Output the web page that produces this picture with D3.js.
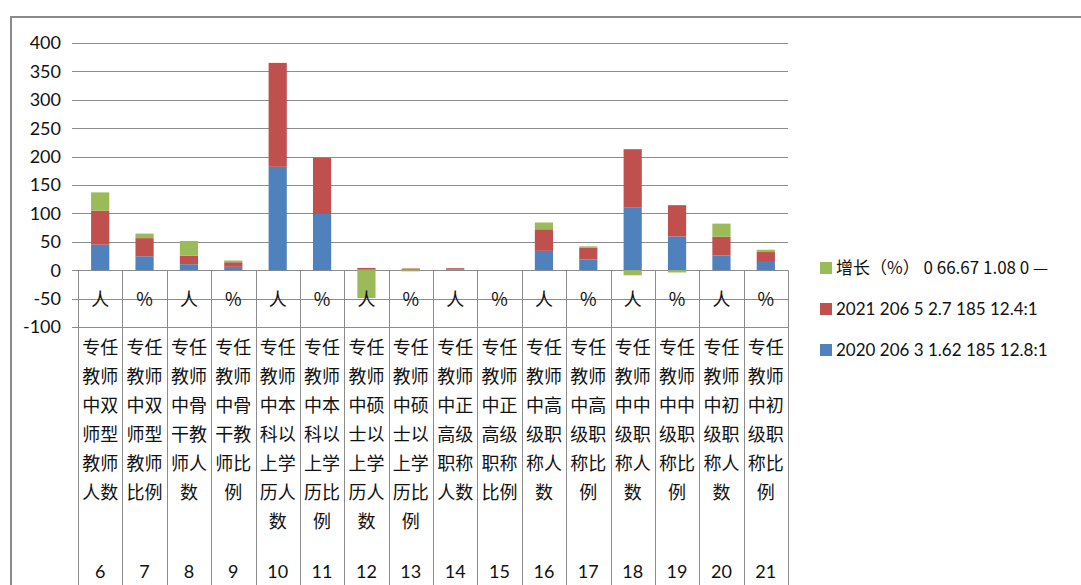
<!DOCTYPE html>
<html>
<head>
<meta charset="utf-8">
<script src="https://cdn.jsdelivr.net/npm/d3@7"></script>
<style>
  html, body { margin: 0; padding: 0; background: #fff; }
  svg { display: block; }
  .num { font-family: Lato, "Liberation Sans", sans-serif; fill: #111; }
  .cjk { font-family: "Noto Sans CJK SC", sans-serif; fill: #111; }
</style>
</head>
<body>
<svg id="chart" width="1081" height="585"></svg>
<script>
// --- Data ---
const codes = [6, 7, 8, 9, 10, 11, 12, 13, 14, 15, 16, 17, 18, 19, 20, 21];
const units = ["人", "%", "人", "%", "人", "%", "人", "%", "人", "%", "人", "%", "人", "%", "人", "%"];
const names = [
  "专任教师中双师型教师人数", "专任教师中双师型教师比例",
  "专任教师中骨干教师人数", "专任教师中骨干教师比例",
  "专任教师中本科以上学历人数", "专任教师中本科以上学历比例",
  "专任教师中硕士以上学历人数", "专任教师中硕士以上学历比例",
  "专任教师中正高级职称人数", "专任教师中正高级职称比例",
  "专任教师中高级职称人数", "专任教师中高级职称比例",
  "专任教师中中级职称人数", "专任教师中中级职称比例",
  "专任教师中初级职称人数", "专任教师中初级职称比例"
];
const s2020 = [45, 24.5, 10.5, 6, 182, 99, 1.5, 1, 1, 0, 34, 19, 110, 59.5, 26, 14.5];
const s2021 = [60, 32, 15, 8, 183, 99, 2.5, 2, 2.5, 0, 38, 21, 103, 55, 33, 17.5];
const growth = [32, 8, 26, 3, 0, 0, -49, -2, 0, 0, 12, 2, -9, -4, 23, 4];
const seriesNames = ["2020 206 3 1.62 185 12.8:1", "2021 206 5 2.7 185 12.4:1", "增长（%） 0 66.67 1.08 0 —"];
const seriesColors = ["#4F81BD", "#C0504D", "#9BBB59"];
const yTicks = [-100, -50, 0, 50, 100, 150, 200, 250, 300, 350, 400];

// --- Layout ---
const plot = { left: 78, right: 788, top: 43, bottom: 327 };
const svg = d3.select("#chart");

// outer frame
svg.append("path")
  .attr("d", "M11,585 L11,17 L1081,17")
  .attr("fill", "none").attr("stroke", "#8a8a8a").attr("stroke-width", 2);

const x = d3.scaleBand().domain(codes).range([plot.left, plot.right]).padding(0);
const y = d3.scaleLinear().domain([-100, 400]).range([plot.bottom, plot.top]);

// gridlines (with short ticks out to the left)
svg.append("g").selectAll("line").data(yTicks).join("line")
  .attr("x1", plot.left - 6).attr("x2", plot.right)
  .attr("y1", d => Math.round(y(d)) + 0.5).attr("y2", d => Math.round(y(d)) + 0.5)
  .attr("stroke", "#8c8c8c").attr("stroke-width", 1);

// y labels
svg.append("g").selectAll("text").data(yTicks).join("text")
  .attr("class", "num")
  .attr("x", 61).attr("y", d => y(d))
  .attr("dy", "0.35em").attr("text-anchor", "end")
  .attr("font-size", 18)
  .text(d => d);

// category separators (multi-level axis table)
const edges = codes.map(c => x(c)).concat([plot.right]);
svg.append("g").selectAll("line").data(edges).join("line")
  .attr("x1", d => Math.round(d) + 0.5).attr("x2", d => Math.round(d) + 0.5)
  .attr("y1", y(0)).attr("y2", 585)
  .attr("stroke", "#8c8c8c").attr("stroke-width", 1);

// stacked bars
const rows = codes.map((c, i) => ({ code: c, a: s2020[i], b: s2021[i], g: growth[i] }));
const stack = d3.stack().keys(["a", "b", "g"]).offset(d3.stackOffsetDiverging);
const layers = stack(rows);
const barW = x.bandwidth() * 0.41;

svg.append("g").selectAll("g").data(layers).join("g")
  .attr("fill", (d, i) => seriesColors[i])
  .selectAll("rect").data(d => d).join("rect")
  .attr("x", d => x(d.data.code) + (x.bandwidth() - barW) / 2)
  .attr("width", barW)
  .attr("y", d => y(Math.max(d[0], d[1])))
  .attr("height", d => Math.abs(y(d[0]) - y(d[1])));

// category labels
const cx = c => x(c) + x.bandwidth() / 2;
svg.append("g").selectAll("text").data(codes).join("text")
  .attr("class", "cjk").attr("font-size", 18)
  .attr("x", cx).attr("y", 300).attr("dy", "0.35em")
  .attr("text-anchor", "middle")
  .text((d, i) => units[i]);

const nameG = svg.append("g");
codes.forEach((c, i) => {
  const parts = names[i].match(/.{1,2}/g);
  const t = nameG.append("text").attr("class", "cjk").attr("font-size", 18)
    .attr("text-anchor", "middle");
  parts.forEach((p, k) => {
    t.append("tspan").attr("x", cx(c)).attr("y", 348 + k * 29).attr("dy", "0.35em").text(p);
  });
});

svg.append("g").selectAll("text").data(codes).join("text")
  .attr("class", "num").attr("font-size", 18)
  .attr("x", cx).attr("y", 572).attr("dy", "0.35em")
  .attr("text-anchor", "middle")
  .text(d => d);

// legend (green on top)
const legendY = [350, 309, 268];
const legend = svg.append("g").selectAll("g").data(seriesNames).join("g")
  .attr("transform", (d, i) => `translate(820,${legendY[i]})`);
legend.append("rect").attr("x", 0).attr("y", -6).attr("width", 12).attr("height", 12)
  .attr("fill", (d, i) => seriesColors[i]);
legend.append("text")
  .attr("class", (d, i) => i === 2 ? "cjk" : "num")
  .attr("x", 16).attr("dy", "0.35em").attr("font-size", 17)
  .text(d => d);
</script>
</body>
</html>
